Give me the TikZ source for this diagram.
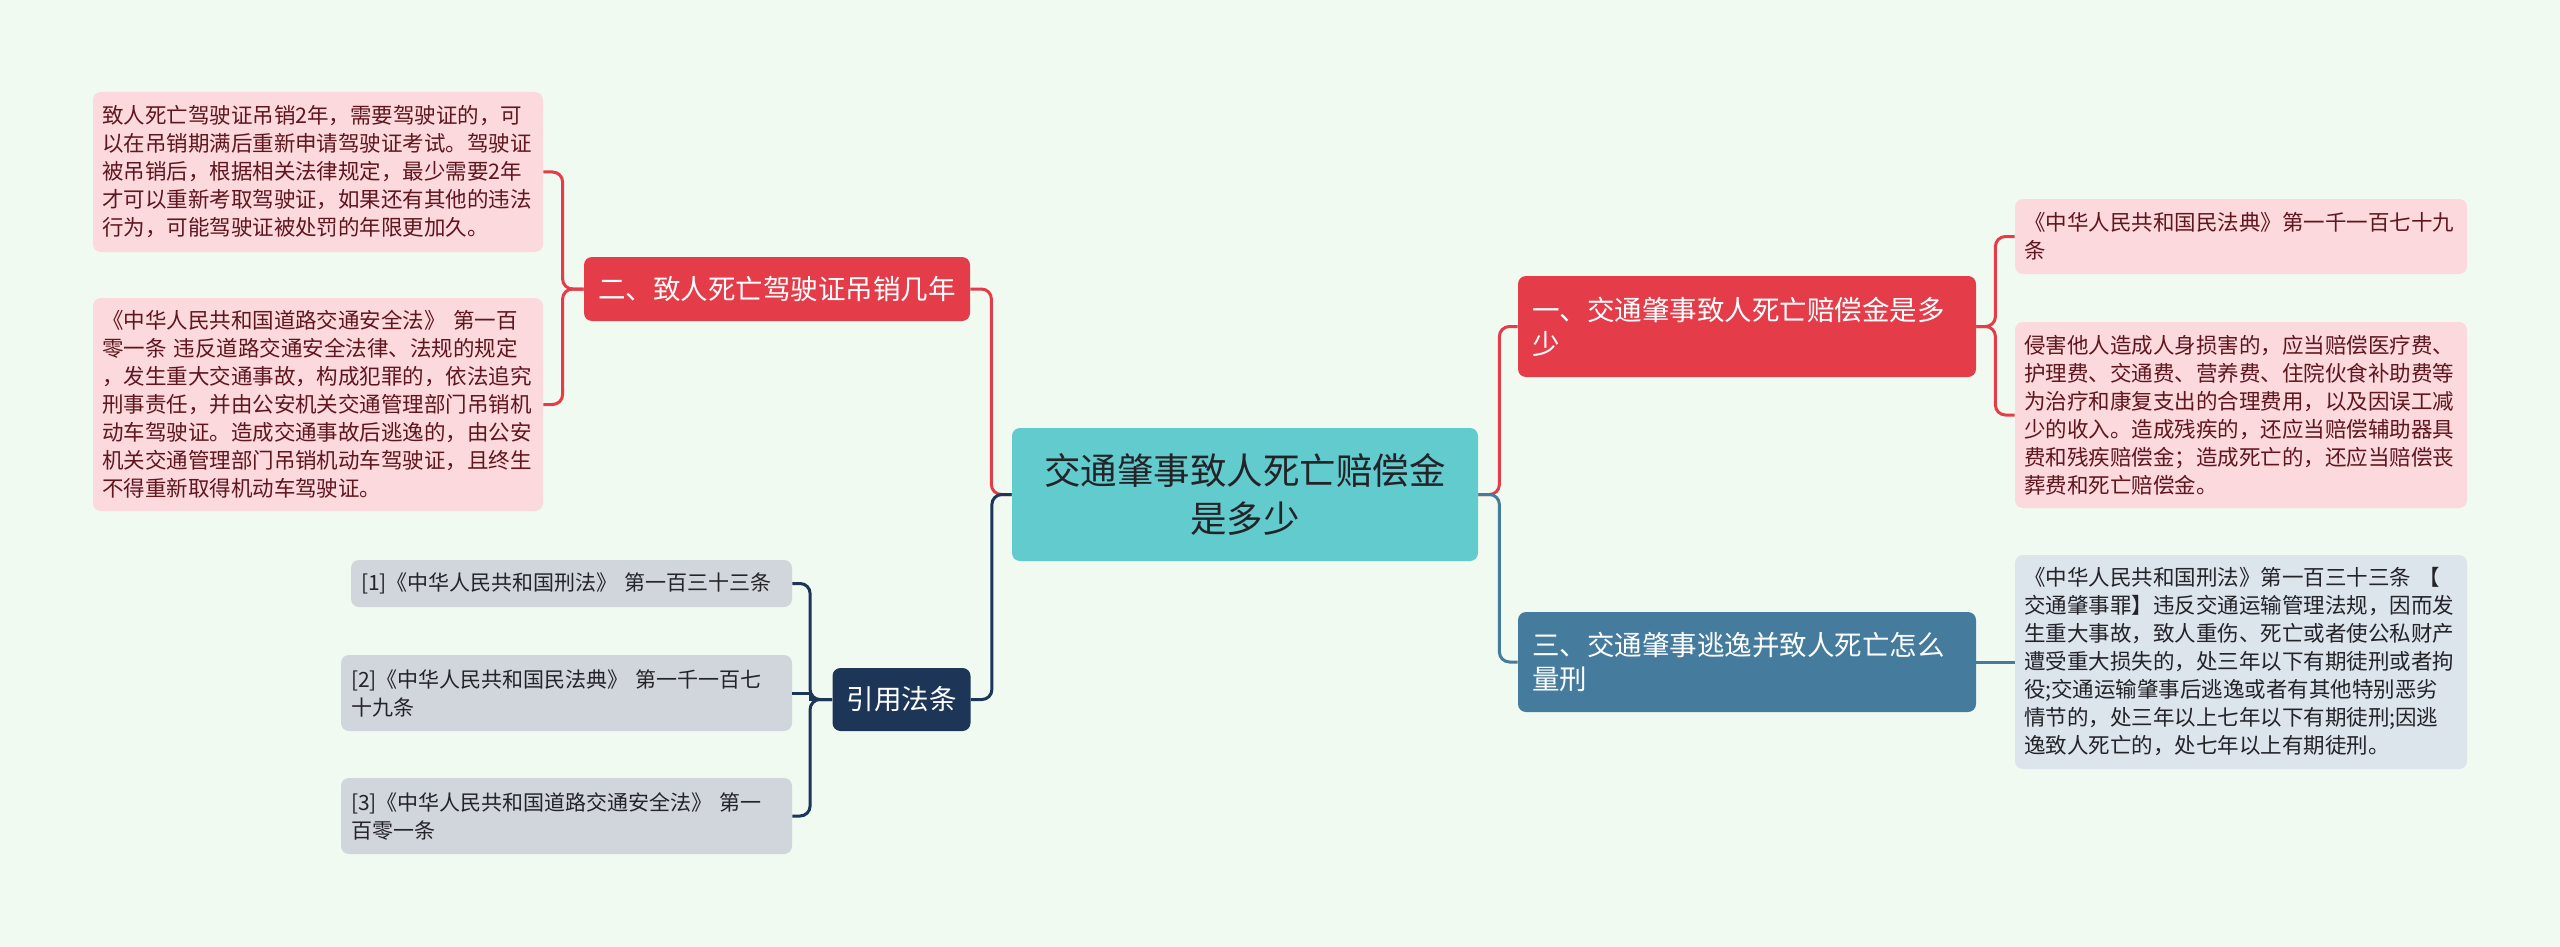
\documentclass[tikz,border=0pt]{standalone}
\usepackage{fontspec}
\setmainfont{Noto Sans CJK SC}
\usepackage{xcolor}
\usepackage{tikz}
\usetikzlibrary{positioning}

\definecolor{bgcol}{RGB}{240,250,240}
\definecolor{rootfill}{RGB}{98,203,205}
\definecolor{redfill}{RGB}{228,60,73}
\definecolor{bluefill}{RGB}{69,123,157}
\definecolor{navyfill}{RGB}{29,53,87}
\definecolor{pinkfill}{RGB}{251,217,221}
\definecolor{pinktext}{RGB}{95,22,30}
\definecolor{greyfill}{RGB}{209,214,221}
\definecolor{icefill}{RGB}{220,228,236}
\definecolor{darktext}{RGB}{35,35,40}

\begin{document}
\begin{tikzpicture}[
    x=0.5pt, y=-0.5pt,
    box/.style={rectangle, rounded corners=4pt, inner xsep=4.5pt, inner ysep=0pt, align=left},
    root/.style={box, fill=rootfill, text=darktext, align=center, text width=216pt, minimum width=233pt, minimum height=66.5pt, font=\fontsize{18.25pt}{24pt}\selectfont},
    branch/.style={box, text=white, inner xsep=7pt, font=\fontsize{13.75pt}{17pt}\selectfont},
    leafp/.style={box, fill=pinkfill, text=pinktext, font=\fontsize{10.75pt}{14pt}\selectfont},
    leafi/.style={box, fill=icefill, text=darktext, font=\fontsize{10.75pt}{14pt}\selectfont},
    leafg/.style={box, fill=greyfill, text=darktext, inner xsep=5pt, font=\fontsize{10.5pt}{14pt}\selectfont},
    redlink/.style={draw=redfill, line width=1.5pt, rounded corners=5pt},
    bluelink/.style={draw=bluefill, line width=1.5pt, rounded corners=5pt},
    navylink/.style={draw=navyfill, line width=1.5pt, rounded corners=5pt}
]

\fill [bgcol] (0,0) rectangle (2560,947);

\node [root] (root) at (1245,494.5) {交通肇事致人死亡赔偿金\\是多少};

\node [branch, fill=redfill, text width=179pt, minimum height=32pt] (b2) at (777,289) {二、致人死亡驾驶证吊销几年};
\node [branch, fill=redfill, text width=215pt, minimum height=50.5pt] (b1) at (1747,326.5) {一、交通肇事致人死亡赔偿金是多\\少};
\node [branch, fill=bluefill, text width=215pt, minimum height=50pt] (b3) at (1747,662) {三、交通肇事逃逸并致人死亡怎么\\量刑};
\node [branch, fill=navyfill, align=center, text width=55pt, minimum height=31.5pt] (cite) at (901.5,699.5) {引用法条};

\node [leafp, text width=216pt, minimum height=80pt] (l2a) at (318,172) {致人死亡驾驶证吊销2年，需要驾驶证的，可\\以在吊销期满后重新申请驾驶证考试。驾驶证\\被吊销后，根据相关法律规定，最少需要2年\\才可以重新考取驾驶证，如果还有其他的违法\\行为，可能驾驶证被处罚的年限更加久。};
\node [leafp, text width=216pt, minimum height=106.5pt] (l2b) at (318,404.5) {《中华人民共和国道路交通安全法》 第一百\\零一条 违反道路交通安全法律、法规的规定\\，发生重大交通事故，构成犯罪的，依法追究\\刑事责任，并由公安机关交通管理部门吊销机\\动车驾驶证。造成交通事故后逃逸的，由公安\\机关交通管理部门吊销机动车驾驶证，且终生\\不得重新取得机动车驾驶证。};

\node [leafp, text width=217pt, minimum height=37.5pt] (l1a) at (2241,236.5) {《中华人民共和国民法典》第一千一百七十九\\条};
\node [leafp, text width=217pt, minimum height=93pt] (l1b) at (2241,415) {侵害他人造成人身损害的，应当赔偿医疗费、\\护理费、交通费、营养费、住院伙食补助费等\\为治疗和康复支出的合理费用，以及因误工减\\少的收入。造成残疾的，还应当赔偿辅助器具\\费和残疾赔偿金；造成死亡的，还应当赔偿丧\\葬费和死亡赔偿金。};
\node [leafi, text width=217pt, minimum height=107pt] (l3a) at (2241,662) {《中华人民共和国刑法》第一百三十三条 【\\交通肇事罪】违反交通运输管理法规，因而发\\生重大事故，致人重伤、死亡或者使公私财产\\遭受重大损失的，处三年以下有期徒刑或者拘\\役;交通运输肇事后逃逸或者有其他特别恶劣\\情节的，处三年以上七年以下有期徒刑;因逃\\逸致人死亡的，处七年以上有期徒刑。};

\node [leafg, text width=210.5pt, minimum height=23.5pt] (c1) at (571.5,583.5) {[1]《中华人民共和国刑法》 第一百三十三条};
\node [leafg, text width=215.5pt, minimum height=38pt] (c2) at (566.5,693) {[2]《中华人民共和国民法典》 第一千一百七\\十九条};
\node [leafg, text width=215.5pt, minimum height=38pt] (c3) at (566.5,816) {[3]《中华人民共和国道路交通安全法》 第一\\百零一条};

\path [redlink] (b2.east) -- ++(21,0) |- (root.west);
\path [navylink] (cite.east) -- ++(21,0) |- (root.west);
\path [redlink] (root.east) -- ++(21,0) |- (b1.west);
\path [bluelink] (root.east) -- ++(21,0) |- (b3.west);

\path [redlink] (b1.east) -- ++(19,0) |- (l1a.west);
\path [redlink] (b1.east) -- ++(19,0) |- (l1b.west);
\path [bluelink] (b3.east) -- (l3a.west);

\path [redlink] (b2.west) -- ++(-21,0) |- (l2a.east);
\path [redlink] (b2.west) -- ++(-21,0) |- (l2b.east);

\path [navylink] (cite.west) -- ++(-22,0) |- (c1.east);
\path [navylink, sharp corners] (cite.west) -- ++(-22,0) |- (c2.east);
\path [navylink] (cite.west) -- ++(-22,0) |- (c3.east);

\end{tikzpicture}
\end{document}
